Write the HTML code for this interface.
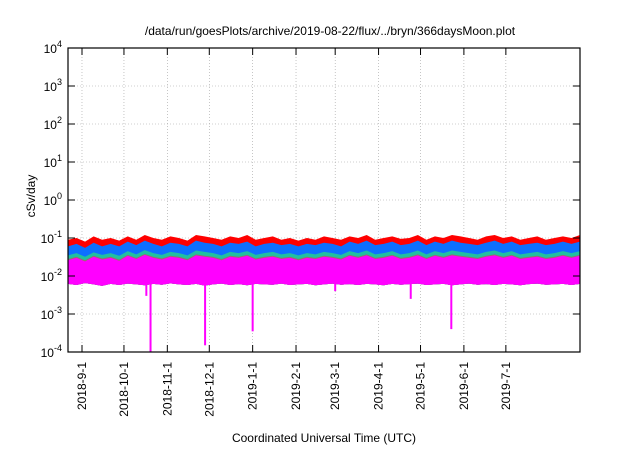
<!DOCTYPE html>
<html><head><meta charset="utf-8"><style>
body{margin:0;background:#fff;width:640px;height:448px;overflow:hidden;font-family:"Liberation Sans",sans-serif}
svg text{font-family:"Liberation Sans",sans-serif;fill:#000}
</style></head><body>
<svg id="chart" width="640" height="448" xmlns="http://www.w3.org/2000/svg">
<text x="330" y="35" font-size="12" text-anchor="middle">/data/run/goesPlots/archive/2019-08-22/flux/../bryn/366daysMoon.plot</text>
<text transform="translate(35,196) rotate(-90)" font-size="12" text-anchor="middle">cSv/day</text>
<text x="324" y="442" font-size="12" text-anchor="middle">Coordinated Universal Time (UTC)</text>
<g id="grid"></g>
<g id="series"></g>
<g id="axes"></g>
</svg>
<script>
const yTicks=[-4,-3,-2,-1,0,1,2,3,4];
const xTickLabels=["2018-9-1","2018-10-1","2018-11-1","2018-12-1","2019-1-1","2019-2-1","2019-3-1","2019-4-1","2019-5-1","2019-6-1","2019-7-1"];
const xTickDays=[10,40,71,101,132,163,191,222,252,283,313];
// envelopes sampled every 6 days (61 points), values in cSv/day
const redTop=[0.09,0.10,0.08,0.11,0.09,0.10,0.085,0.11,0.09,0.12,0.10,0.09,0.11,0.10,0.085,0.12,0.11,0.10,0.09,0.11,0.10,0.12,0.09,0.10,0.11,0.09,0.10,0.085,0.10,0.09,0.11,0.10,0.09,0.11,0.10,0.12,0.09,0.10,0.11,0.095,0.10,0.12,0.09,0.11,0.10,0.12,0.11,0.10,0.09,0.11,0.12,0.10,0.11,0.09,0.10,0.11,0.09,0.10,0.11,0.10,0.12];
const blueTop=[0.06,0.07,0.055,0.075,0.06,0.07,0.06,0.08,0.065,0.085,0.07,0.06,0.075,0.07,0.06,0.085,0.075,0.07,0.06,0.075,0.07,0.08,0.06,0.07,0.075,0.065,0.07,0.06,0.07,0.065,0.075,0.07,0.06,0.08,0.07,0.085,0.065,0.07,0.08,0.065,0.07,0.085,0.065,0.08,0.07,0.085,0.075,0.07,0.065,0.075,0.085,0.07,0.08,0.065,0.07,0.075,0.065,0.07,0.08,0.07,0.08];
const tealTop=[0.035,0.04,0.032,0.042,0.036,0.04,0.034,0.045,0.037,0.048,0.04,0.036,0.043,0.04,0.035,0.047,0.043,0.04,0.035,0.043,0.04,0.045,0.036,0.04,0.043,0.037,0.04,0.035,0.04,0.037,0.043,0.04,0.036,0.045,0.04,0.047,0.037,0.04,0.045,0.037,0.04,0.047,0.037,0.045,0.04,0.047,0.043,0.04,0.037,0.043,0.047,0.04,0.045,0.037,0.04,0.043,0.037,0.04,0.045,0.04,0.045];
const brownTop=[0.028,0.032,0.026,0.034,0.029,0.032,0.027,0.036,0.03,0.038,0.032,0.029,0.034,0.032,0.028,0.037,0.034,0.032,0.028,0.034,0.032,0.036,0.029,0.032,0.034,0.03,0.032,0.028,0.032,0.03,0.034,0.032,0.029,0.036,0.032,0.037,0.03,0.032,0.036,0.03,0.032,0.037,0.03,0.036,0.032,0.037,0.034,0.032,0.03,0.034,0.037,0.032,0.036,0.03,0.032,0.034,0.03,0.032,0.036,0.032,0.036];
const magTop=[0.026,0.03,0.024,0.032,0.027,0.03,0.025,0.034,0.028,0.036,0.03,0.027,0.032,0.03,0.026,0.035,0.032,0.03,0.026,0.032,0.03,0.034,0.027,0.03,0.032,0.028,0.03,0.026,0.03,0.028,0.032,0.03,0.027,0.034,0.03,0.035,0.028,0.03,0.034,0.028,0.03,0.035,0.028,0.034,0.03,0.035,0.032,0.03,0.028,0.032,0.035,0.03,0.034,0.028,0.03,0.032,0.028,0.03,0.034,0.03,0.034];
const magBottom=[0.0062,0.0058,0.0065,0.006,0.0055,0.0062,0.0058,0.0063,0.006,0.0057,0.0062,0.0059,0.0064,0.006,0.0058,0.0062,0.0056,0.006,0.0063,0.0058,0.0061,0.0057,0.0062,0.006,0.0059,0.0063,0.0058,0.006,0.0062,0.0057,0.006,0.0063,0.0059,0.0061,0.0058,0.0062,0.006,0.0057,0.0062,0.0059,0.0061,0.0063,0.0058,0.006,0.0062,0.0057,0.006,0.0063,0.0059,0.0061,0.0058,0.0062,0.006,0.0057,0.0061,0.0063,0.0059,0.006,0.0062,0.0058,0.0062];
const dipDays=[56,59,98,132,191,245,274];
const dipValues=[0.003,0.0001,0.00015,0.00035,0.004,0.0025,0.0004];
const NS="http://www.w3.org/2000/svg";
const L=68,R=580,T=48,B=352,DAYS=366;
function xs(d){return L+d*(R-L)/DAYS;}
function ys(v){return B-(Math.log10(v)+4)*(B-T)/8;}
function mk(tag,attrs,parent){const e=document.createElementNS(NS,tag);for(const k in attrs)e.setAttribute(k,attrs[k]);parent.appendChild(e);return e;}
const grid=document.getElementById('grid'),axes=document.getElementById('axes'),ser=document.getElementById('series');
yTicks.forEach(p=>{const y=ys(Math.pow(10,p));
 if(p>-4&&p<4){const g=mk('line',{x1:L,x2:R,y1:y,y2:y,stroke:'#a0a0a0','stroke-width':0.6,'stroke-dasharray':'1,2'},grid);}
 const t1=mk('line',{x1:L,x2:L+7,y1:y,y2:y,stroke:'#000'},axes);
 const t2=mk('line',{x1:R-7,x2:R,y1:y,y2:y,stroke:'#000'},axes);
 const tx=mk('text',{x:L-6,y:y+5,'font-size':12,'text-anchor':'end'},axes);
 tx.appendChild(document.createTextNode('10'));const s=mk('tspan',{dy:-6,'font-size':9},tx);s.textContent=String(p);
});
xTickDays.forEach((d,i)=>{const x=xs(d);
 const g=mk('line',{x1:x,x2:x,y1:T,y2:B,stroke:'#a0a0a0','stroke-width':0.6,'stroke-dasharray':'1,2'},grid);
 const t1=mk('line',{x1:x,x2:x,y1:B,y2:B-7,stroke:'#000'},axes);
 const t2=mk('line',{x1:x,x2:x,y1:T,y2:T+7,stroke:'#000'},axes);
 const tx=mk('text',{transform:`translate(${x+4},${B+10}) rotate(-90)`,'font-size':12,'text-anchor':'end'},axes);tx.textContent=xTickLabels[i];
});
function band(top,bot,color,name){const n=top.length,step=DAYS/(n-1);let pts=[];
 for(let i=0;i<n;i++){pts.push(xs(Math.min(i*step,DAYS))+','+ys(top[i]));}
 for(let i=n-1;i>=0;i--)pts.push(xs(Math.min(i*step,DAYS))+','+ys(bot[i]));
 const p=mk('polygon',{points:pts.join(' '),fill:color},ser);}
band(redTop,magBottom,'#ff0000','series-red');
band(blueTop,magBottom,'#0d6fff','series-blue');
band(tealTop,magBottom,'#20c0a0','series-teal');
band(brownTop,magBottom,'#9a6a70','series-brown');
band(magTop,magBottom,'#ff00ff','series-magenta');
dipDays.forEach((d,i)=>{const x=xs(d);const l=mk('line',{x1:x,x2:x,y1:ys(0.007),y2:Math.min(B,ys(dipValues[i])),stroke:'#ff00ff','stroke-width':2},ser);});
const fr=mk('rect',{x:L,y:T,width:R-L,height:B-T,fill:'none',stroke:'#000','stroke-width':1.2},axes);
</script>
</body></html>
